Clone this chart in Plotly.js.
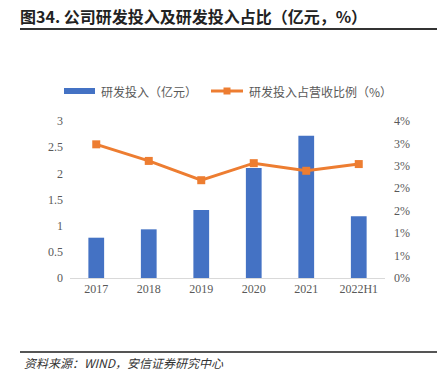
<!DOCTYPE html>
<html>
<head>
<meta charset="utf-8">
<script src="https://cdn.plot.ly/plotly-3.0.1.min.js"></script>
<style>html,body{margin:0;padding:0;background:#fff;}#chart{width:437px;height:385px;}</style>
</head>
<body>
<div id="chart"></div>
<script>
const categories = ['2017', '2018', '2019', '2020', '2021', '2022H1'];
const rdInvest = [0.77, 0.93, 1.30, 2.10, 2.72, 1.18];
const rdRatio = [0.0298, 0.0261, 0.0218, 0.0256, 0.0239, 0.0254];
const seriesNames = ['研发投入（亿元）', '研发投入占营收比例（%）'];
const leftTicks = [0, 0.5, 1, 1.5, 2, 2.5, 3];
const leftTickText = ['0', '0.5', '1', '1.5', '2', '2.5', '3'];
const rightTicks = [0, 0.005, 0.01, 0.015, 0.02, 0.025, 0.03, 0.035];
const rightTickText = ['0%', '1%', '1%', '2%', '2%', '3%', '3%', '4%'];

const W = 437, H = 385;
const M = {l: 70, r: 52, t: 121, b: 107};
const pw = W - M.l - M.r, ph = H - M.t - M.b;
const px = x => (x - M.l) / pw;
const py = y => (H - M.b - y) / ph;

const BLUE = '#4472C4', ORANGE = '#ED7D31';
const tickFont = {family: 'Liberation Serif, Times New Roman, serif', size: 12, color: '#595959'};
const cjk = 'Noto Sans CJK SC, sans-serif';

const traces = [
  {
    type: 'bar', name: seriesNames[0], x: categories, y: rdInvest,
    marker: {color: BLUE}, width: 0.3, yaxis: 'y'
  },
  {
    type: 'scatter', mode: 'lines+markers', name: seriesNames[1],
    x: categories, y: rdRatio, yaxis: 'y2',
    line: {color: ORANGE, width: 3},
    marker: {symbol: 'square', size: 8, color: ORANGE}
  }
];

const legY = 91;
const layout = {
  width: W, height: H,
  margin: M,
  paper_bgcolor: '#fff', plot_bgcolor: '#fff',
  showlegend: false,
  title: {
    text: '<b>图34. 公司研发投入及研发投入占比（亿元，%）</b>',
    xref: 'container', yref: 'container', x: 20 / W, y: 1 - 17 / H,
    xanchor: 'left', yanchor: 'middle',
    font: {family: cjk, size: 16, color: '#222'}
  },
  xaxis: {
    type: 'category', showgrid: false, zeroline: false,
    showline: true, linecolor: '#d9d9d9', linewidth: 1,
    tickfont: tickFont, ticks: '', range: [-0.5, 5.5]
  },
  yaxis: {
    range: [0, 3], tickvals: leftTicks, ticktext: leftTickText,
    showgrid: false, zeroline: false, showline: false, ticks: '',
    tickfont: tickFont, ticklabelstandoff: 6
  },
  yaxis2: {
    overlaying: 'y', side: 'right', range: [0, 0.035],
    tickvals: rightTicks, ticktext: rightTickText,
    showgrid: false, zeroline: false, showline: false, ticks: '',
    tickfont: tickFont, ticklabelstandoff: 8
  },
  shapes: [
    {type: 'line', xref: 'paper', yref: 'paper', x0: px(20), x1: px(437), y0: py(29), y1: py(29),
     line: {color: '#333', width: 2}},
    {type: 'line', xref: 'paper', yref: 'paper', x0: px(20), x1: px(437), y0: py(352), y1: py(352),
     line: {color: '#555', width: 2}},
    // legend keys
    {type: 'rect', xref: 'paper', yref: 'paper', x0: px(64), x1: px(95), y0: py(94), y1: py(88),
     fillcolor: BLUE, line: {width: 0}},
    {type: 'line', xref: 'paper', yref: 'paper', x0: px(211), x1: px(243), y0: py(legY), y1: py(legY),
     line: {color: ORANGE, width: 3}},
    {type: 'rect', xref: 'paper', yref: 'paper', x0: px(223.5), x1: px(230.5), y0: py(94.5), y1: py(87.5),
     fillcolor: ORANGE, line: {width: 0}}
  ],
  annotations: [
    {xref: 'paper', yref: 'paper', x: px(99), y: py(legY), xanchor: 'left', yanchor: 'middle',
     showarrow: false, text: seriesNames[0], font: {family: cjk, size: 12, color: '#595959'}},
    {xref: 'paper', yref: 'paper', x: px(247), y: py(legY), xanchor: 'left', yanchor: 'middle',
     showarrow: false, text: seriesNames[1], font: {family: cjk, size: 12, color: '#595959'}},
    {xref: 'paper', yref: 'paper', x: px(22), y: py(362), xanchor: 'left', yanchor: 'middle',
     showarrow: false, text: '<i>资料来源：WIND，安信证券研究中心</i>',
     font: {family: cjk, size: 12, color: '#333'}}
  ]
};

Plotly.newPlot('chart', traces, layout, {displayModeBar: false, staticPlot: true});
</script>
</body>
</html>
